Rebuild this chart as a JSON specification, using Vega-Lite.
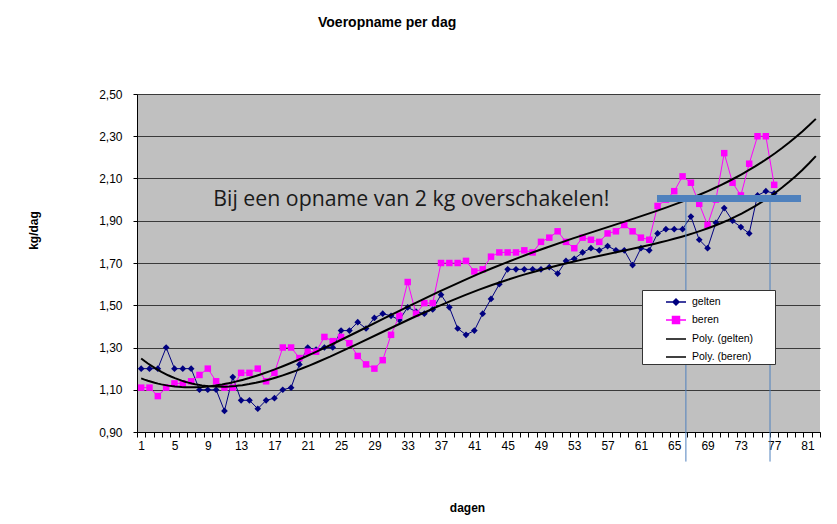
{
  "$schema": "https://vega.github.io/schema/vega-lite/v6.json",
  "width": 683,
  "height": 338,
  "autosize": "none",
  "padding": {"left": 137, "top": 94, "right": 17, "bottom": 92},
  "background": "white",
  "view": {"fill": "#C0C0C0", "stroke": null},
  "title": {"text": "Voeropname per dag", "anchor": "start", "frame": "group", "dx": 181, "offset": 47, "font": "Liberation Sans", "fontSize": 14, "fontWeight": "bold", "color": "black", "baseline": "alphabetic"},
  "datasets": {
    "voer": [
      {"dag":1,"serie":"gelten","waarde":1.20},{"dag":2,"serie":"gelten","waarde":1.20},{"dag":3,"serie":"gelten","waarde":1.20},{"dag":4,"serie":"gelten","waarde":1.30},{"dag":5,"serie":"gelten","waarde":1.20},{"dag":6,"serie":"gelten","waarde":1.20},{"dag":7,"serie":"gelten","waarde":1.20},{"dag":8,"serie":"gelten","waarde":1.10},{"dag":9,"serie":"gelten","waarde":1.10},{"dag":10,"serie":"gelten","waarde":1.10},
      {"dag":11,"serie":"gelten","waarde":1.00},{"dag":12,"serie":"gelten","waarde":1.16},{"dag":13,"serie":"gelten","waarde":1.05},{"dag":14,"serie":"gelten","waarde":1.05},{"dag":15,"serie":"gelten","waarde":1.01},{"dag":16,"serie":"gelten","waarde":1.05},{"dag":17,"serie":"gelten","waarde":1.06},{"dag":18,"serie":"gelten","waarde":1.10},{"dag":19,"serie":"gelten","waarde":1.11},{"dag":20,"serie":"gelten","waarde":1.22},
      {"dag":21,"serie":"gelten","waarde":1.30},{"dag":22,"serie":"gelten","waarde":1.29},{"dag":23,"serie":"gelten","waarde":1.30},{"dag":24,"serie":"gelten","waarde":1.30},{"dag":25,"serie":"gelten","waarde":1.38},{"dag":26,"serie":"gelten","waarde":1.38},{"dag":27,"serie":"gelten","waarde":1.42},{"dag":28,"serie":"gelten","waarde":1.39},{"dag":29,"serie":"gelten","waarde":1.44},{"dag":30,"serie":"gelten","waarde":1.46},
      {"dag":31,"serie":"gelten","waarde":1.45},{"dag":32,"serie":"gelten","waarde":1.43},{"dag":33,"serie":"gelten","waarde":1.49},{"dag":34,"serie":"gelten","waarde":1.47},{"dag":35,"serie":"gelten","waarde":1.46},{"dag":36,"serie":"gelten","waarde":1.48},{"dag":37,"serie":"gelten","waarde":1.55},{"dag":38,"serie":"gelten","waarde":1.49},{"dag":39,"serie":"gelten","waarde":1.39},{"dag":40,"serie":"gelten","waarde":1.36},
      {"dag":41,"serie":"gelten","waarde":1.38},{"dag":42,"serie":"gelten","waarde":1.46},{"dag":43,"serie":"gelten","waarde":1.53},{"dag":44,"serie":"gelten","waarde":1.60},{"dag":45,"serie":"gelten","waarde":1.67},{"dag":46,"serie":"gelten","waarde":1.67},{"dag":47,"serie":"gelten","waarde":1.67},{"dag":48,"serie":"gelten","waarde":1.67},{"dag":49,"serie":"gelten","waarde":1.67},{"dag":50,"serie":"gelten","waarde":1.68},
      {"dag":51,"serie":"gelten","waarde":1.65},{"dag":52,"serie":"gelten","waarde":1.71},{"dag":53,"serie":"gelten","waarde":1.72},{"dag":54,"serie":"gelten","waarde":1.75},{"dag":55,"serie":"gelten","waarde":1.77},{"dag":56,"serie":"gelten","waarde":1.76},{"dag":57,"serie":"gelten","waarde":1.78},{"dag":58,"serie":"gelten","waarde":1.76},{"dag":59,"serie":"gelten","waarde":1.76},{"dag":60,"serie":"gelten","waarde":1.69},
      {"dag":61,"serie":"gelten","waarde":1.77},{"dag":62,"serie":"gelten","waarde":1.76},{"dag":63,"serie":"gelten","waarde":1.84},{"dag":64,"serie":"gelten","waarde":1.86},{"dag":65,"serie":"gelten","waarde":1.86},{"dag":66,"serie":"gelten","waarde":1.86},{"dag":67,"serie":"gelten","waarde":1.92},{"dag":68,"serie":"gelten","waarde":1.81},{"dag":69,"serie":"gelten","waarde":1.77},{"dag":70,"serie":"gelten","waarde":1.89},
      {"dag":71,"serie":"gelten","waarde":1.96},{"dag":72,"serie":"gelten","waarde":1.90},{"dag":73,"serie":"gelten","waarde":1.87},{"dag":74,"serie":"gelten","waarde":1.84},{"dag":75,"serie":"gelten","waarde":2.02},{"dag":76,"serie":"gelten","waarde":2.04},{"dag":77,"serie":"gelten","waarde":2.03},
      {"dag":1,"serie":"beren","waarde":1.11},{"dag":2,"serie":"beren","waarde":1.11},{"dag":3,"serie":"beren","waarde":1.07},{"dag":4,"serie":"beren","waarde":1.11},{"dag":5,"serie":"beren","waarde":1.13},{"dag":6,"serie":"beren","waarde":1.13},{"dag":7,"serie":"beren","waarde":1.14},{"dag":8,"serie":"beren","waarde":1.17},{"dag":9,"serie":"beren","waarde":1.20},{"dag":10,"serie":"beren","waarde":1.14},
      {"dag":11,"serie":"beren","waarde":1.11},{"dag":12,"serie":"beren","waarde":1.11},{"dag":13,"serie":"beren","waarde":1.18},{"dag":14,"serie":"beren","waarde":1.18},{"dag":15,"serie":"beren","waarde":1.20},{"dag":16,"serie":"beren","waarde":1.14},{"dag":17,"serie":"beren","waarde":1.18},{"dag":18,"serie":"beren","waarde":1.30},{"dag":19,"serie":"beren","waarde":1.30},{"dag":20,"serie":"beren","waarde":1.25},
      {"dag":21,"serie":"beren","waarde":1.28},{"dag":22,"serie":"beren","waarde":1.28},{"dag":23,"serie":"beren","waarde":1.35},{"dag":24,"serie":"beren","waarde":1.33},{"dag":25,"serie":"beren","waarde":1.35},{"dag":26,"serie":"beren","waarde":1.32},{"dag":27,"serie":"beren","waarde":1.26},{"dag":28,"serie":"beren","waarde":1.22},{"dag":29,"serie":"beren","waarde":1.20},{"dag":30,"serie":"beren","waarde":1.24},
      {"dag":31,"serie":"beren","waarde":1.36},{"dag":32,"serie":"beren","waarde":1.45},{"dag":33,"serie":"beren","waarde":1.61},{"dag":34,"serie":"beren","waarde":1.46},{"dag":35,"serie":"beren","waarde":1.51},{"dag":36,"serie":"beren","waarde":1.51},{"dag":37,"serie":"beren","waarde":1.70},{"dag":38,"serie":"beren","waarde":1.70},{"dag":39,"serie":"beren","waarde":1.70},{"dag":40,"serie":"beren","waarde":1.71},
      {"dag":41,"serie":"beren","waarde":1.66},{"dag":42,"serie":"beren","waarde":1.67},{"dag":43,"serie":"beren","waarde":1.73},{"dag":44,"serie":"beren","waarde":1.75},{"dag":45,"serie":"beren","waarde":1.75},{"dag":46,"serie":"beren","waarde":1.75},{"dag":47,"serie":"beren","waarde":1.76},{"dag":48,"serie":"beren","waarde":1.75},{"dag":49,"serie":"beren","waarde":1.80},{"dag":50,"serie":"beren","waarde":1.82},
      {"dag":51,"serie":"beren","waarde":1.85},{"dag":52,"serie":"beren","waarde":1.80},{"dag":53,"serie":"beren","waarde":1.77},{"dag":54,"serie":"beren","waarde":1.82},{"dag":55,"serie":"beren","waarde":1.81},{"dag":56,"serie":"beren","waarde":1.80},{"dag":57,"serie":"beren","waarde":1.84},{"dag":58,"serie":"beren","waarde":1.85},{"dag":59,"serie":"beren","waarde":1.88},{"dag":60,"serie":"beren","waarde":1.85},
      {"dag":61,"serie":"beren","waarde":1.82},{"dag":62,"serie":"beren","waarde":1.81},{"dag":63,"serie":"beren","waarde":1.97},{"dag":64,"serie":"beren","waarde":2.00},{"dag":65,"serie":"beren","waarde":2.04},{"dag":66,"serie":"beren","waarde":2.11},{"dag":67,"serie":"beren","waarde":2.08},{"dag":68,"serie":"beren","waarde":1.98},{"dag":69,"serie":"beren","waarde":1.88},{"dag":70,"serie":"beren","waarde":2.00},
      {"dag":71,"serie":"beren","waarde":2.22},{"dag":72,"serie":"beren","waarde":2.08},{"dag":73,"serie":"beren","waarde":2.02},{"dag":74,"serie":"beren","waarde":2.17},{"dag":75,"serie":"beren","waarde":2.30},{"dag":76,"serie":"beren","waarde":2.30},{"dag":77,"serie":"beren","waarde":2.07}
    ]
  },
  "data": {"name": "voer"},
  "encoding": {
    "x": {"field": "dag", "type": "quantitative", "scale": {"domain": [0.5, 82.5], "nice": false, "zero": false},
      "axis": {"title": "dagen", "grid": false,
        "values": [0.5,1.5,2.5,3.5,4.5,5.5,6.5,7.5,8.5,9.5,10.5,11.5,12.5,13.5,14.5,15.5,16.5,17.5,18.5,19.5,20.5,21.5,22.5,23.5,24.5,25.5,26.5,27.5,28.5,29.5,30.5,31.5,32.5,33.5,34.5,35.5,36.5,37.5,38.5,39.5,40.5,41.5,42.5,43.5,44.5,45.5,46.5,47.5,48.5,49.5,50.5,51.5,52.5,53.5,54.5,55.5,56.5,57.5,58.5,59.5,60.5,61.5,62.5,63.5,64.5,65.5,66.5,67.5,68.5,69.5,70.5,71.5,72.5,73.5,74.5,75.5,76.5,77.5,78.5,79.5,80.5,81.5,82.5],
        "labelExpr": "datum.value % 4 == 0.5 && datum.value < 82 ? format(datum.value + 0.5, 'd') : ''",
        "labelOffset": 4.16, "labelOverlap": false, "labelFlush": false, "labelBound": false,
        "domainColor": "black", "domainWidth": 1, "tickColor": "black", "tickSize": 5,
        "labelFont": "Liberation Sans", "labelFontSize": 12, "labelColor": "black", "labelPadding": 3,
        "titleFont": "Liberation Sans", "titleFontSize": 12, "titleFontWeight": "bold", "titleColor": "black",
        "titleX": 330, "titleY": 75, "titleAlign": "center", "titleBaseline": "middle"}},
    "y": {"field": "waarde", "type": "quantitative", "scale": {"domain": [0.9, 2.5], "nice": false, "zero": false},
      "axis": {"title": "kg/dag", "grid": true, "gridColor": "#3a3a3a", "gridWidth": 1,
        "values": [0.9,1.1,1.3,1.5,1.7,1.9,2.1,2.3,2.5],
        "labelExpr": "replace(format(datum.value, '.2f'), '.', ',')",
        "domainColor": "black", "domainWidth": 1, "tickColor": "black", "tickSize": 4,
        "labelFont": "Liberation Sans", "labelFontSize": 12, "labelColor": "black", "labelPadding": 11,
        "titleFont": "Liberation Sans", "titleFontSize": 12, "titleFontWeight": "bold", "titleColor": "black",
        "titleX": -104, "titleY": 136, "titleAngle": 270, "titleAlign": "center", "titleBaseline": "middle"}}
  },
  "layer": [
    {
      "transform": [{"filter": "datum.serie == 'gelten'"}],
      "mark": {"type": "line", "color": "#000080", "strokeWidth": 1, "point": {"shape": "diamond", "size": 45, "filled": true, "color": "#000080"}}
    },
    {
      "transform": [{"filter": "datum.serie == 'beren'"}],
      "mark": {"type": "line", "color": "#FF00FF", "strokeWidth": 1, "point": {"shape": "square", "size": 42, "filled": true, "color": "#FF00FF"}}
    },
    {
      "transform": [{"regression": "waarde", "on": "dag", "groupby": ["serie"], "method": "poly", "order": 4, "extent": [1, 82]}],
      "mark": {"type": "line", "color": "black", "strokeWidth": 2},
      "encoding": {
        "detail": {"field": "serie", "type": "nominal"}
      }
    },
    {
      "mark": {"type": "point", "filled": true, "opacity": 0},
      "encoding": {
        "color": {"field": "serie", "type": "nominal",
          "scale": {"domain": ["gelten", "beren", "Poly. (gelten)", "Poly. (beren)"], "range": ["#000080", "#FF00FF", "#000000", "#000000"]},
          "legend": {"title": null, "orient": "none", "legendX": 505, "legendY": 196, "fillColor": "white", "strokeColor": "#333333", "padding": 1, "rowPadding": 1, "symbolSize": 400, "symbolOffset": 22, "symbolStrokeWidth": 1.5, "labelOffset": 5, "labelFont": "Liberation Sans", "labelFontSize": 10.5, "labelColor": "black",
            "encode": {
              "symbols": {"update": {"stroke": {"scale": "color", "field": "value"}, "strokeWidth": {"value": 1.5}, "opacity": {"value": 1}, "fillOpacity": {"value": 1}, "strokeOpacity": {"value": 1}}},
              "labels": {"update": {"text": {"signal": "datum.label + '\u00a0\u00a0\u00a0\u00a0\u00a0\u00a0\u00a0\u200b'"}}}
            }}},
        "shape": {"field": "serie", "type": "nominal",
          "scale": {"domain": ["gelten", "beren", "Poly. (gelten)", "Poly. (beren)"], "range": ["M-1,0H1M-0.3,0L0,-0.3L0.3,0L0,0.3Z", "M-1,0H1M-0.35,-0.35H0.35V0.35H-0.35Z", "M-1,0H1", "M-1,0H1"]},
          "legend": {"title": null, "orient": "none", "legendX": 505, "legendY": 196, "fillColor": "white", "strokeColor": "#333333", "padding": 1, "rowPadding": 1, "symbolSize": 400, "symbolOffset": 22, "symbolStrokeWidth": 1.5, "labelOffset": 5, "labelFont": "Liberation Sans", "labelFontSize": 10.5, "labelColor": "black",
            "encode": {
              "symbols": {"update": {"stroke": {"scale": "color", "field": "value"}, "strokeWidth": {"value": 1.5}, "opacity": {"value": 1}, "fillOpacity": {"value": 1}, "strokeOpacity": {"value": 1}}},
              "labels": {"update": {"text": {"signal": "datum.label + '\u00a0\u00a0\u00a0\u00a0\u00a0\u00a0\u00a0\u200b'"}}}
            }}}
      }
    },
    {
      "data": {"values": [{"dag": 9.66, "waarde": 1.97, "tekst": "Bij een opname van 2 kg overschakelen!"}]},
      "mark": {"type": "text", "font": "Open Sans", "fontSize": 21.3, "align": "left", "baseline": "alphabetic", "color": "#1a1a1a"},
      "encoding": {
        "text": {"field": "tekst"}
      }
    },
    {
      "data": {"values": [{"dag": 62.93, "dag2": 80.22, "waarde": 2.005}]},
      "mark": {"type": "rule", "color": "#4F81BD", "strokeWidth": 7, "strokeCap": "butt"},
      "encoding": {
        "x2": {"field": "dag2"}
      }
    },
    {
      "data": {"values": [{"dag": 66.4, "waarde": 2.005, "waarde2": 0.76}, {"dag": 76.5, "waarde": 2.005, "waarde2": 0.76}]},
      "mark": {"type": "rule", "color": "#4F81BD", "strokeWidth": 1},
      "encoding": {
        "y2": {"field": "waarde2"}
      }
    }
  ],
  "config": {
    "axis": {"labelOverlap": false}
  }
}
